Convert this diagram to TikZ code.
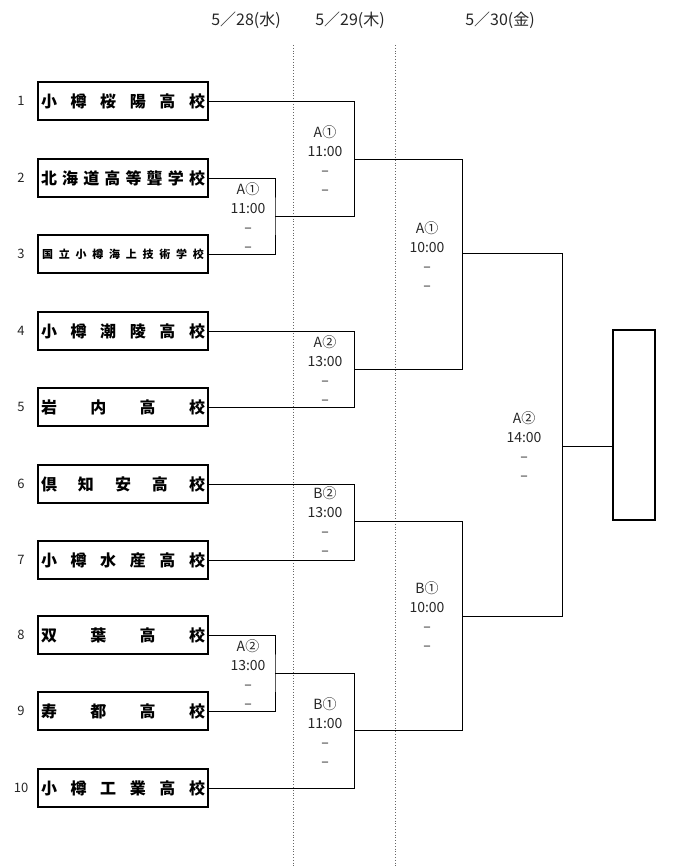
\documentclass[tikz,border=0pt]{standalone}
\usepackage{fontspec}
\setmainfont{Noto Sans CJK JP}
\tikzset{
  team/.style={draw, line width=1.6pt, minimum width=170pt, minimum height=38pt, inner sep=0pt},
  champbox/.style={draw, line width=1.6pt, minimum width=42pt, minimum height=190pt, inner sep=0pt},
  bline/.style={line width=0.9pt},
  lbl/.style={align=center, font=\fontsize{14}{19}\selectfont, inner sep=0pt, text=black!85},
  num/.style={font=\fontsize{13}{14}\selectfont, inner sep=0pt, text=black!85},
  day/.style={font=\fontsize{16}{18}\selectfont, inner sep=0pt, text=black!85},
  sepline/.style={dotted, line width=0.8pt, black!60}
}
\newcommand{\tname}[1]{\makebox[164pt][s]{\fontsize{16}{16}\selectfont\bfseries #1}}
\newcommand{\tsmall}[1]{\makebox[162pt][s]{\fontsize{11}{11}\selectfont\bfseries #1}}
\begin{document}
\begin{tikzpicture}[x=1pt,y=-1pt]
\useasboundingbox (0,0) rectangle (700,866);
% header
\node[day] (d1) at (246,20) {5／28(水)};
\node[day] (d2) at (350,20) {5／29(木)};
\node[day] (d3) at (500,20) {5／30(金)};
% dotted separators
\coordinate (s1a) at (293,45); \coordinate (s1b) at (293,866);
\coordinate (s2a) at (395,45); \coordinate (s2b) at (395,866);
\draw[sepline] (s1a) -- (s1b);
\draw[sepline] (s2a) -- (s2b);
% teams
\node[team] (t1) at (123,101) {\tname{小 樽 桜 陽 高 校}};
\node[team] (t2) at (123,178) {\tname{北 海 道 高 等 聾 学 校}};
\node[team] (t3) at (123,254) {\tsmall{国 立 小 樽 海 上 技 術 学 校}};
\node[team] (t4) at (123,331) {\tname{小 樽 潮 陵 高 校}};
\node[team] (t5) at (123,407) {\tname{岩 内 高 校}};
\node[team] (t6) at (123,484) {\tname{倶 知 安 高 校}};
\node[team] (t7) at (123,560) {\tname{小 樽 水 産 高 校}};
\node[team] (t8) at (123,635) {\tname{双 葉 高 校}};
\node[team] (t9) at (123,711) {\tname{寿 都 高 校}};
\node[team] (t10) at (123,788) {\tname{小 樽 工 業 高 校}};
% numbers
\node[num] (n1) at (21,101) {1};
\node[num] (n2) at (21,178) {2};
\node[num] (n3) at (21,254) {3};
\node[num] (n4) at (21,331) {4};
\node[num] (n5) at (21,407) {5};
\node[num] (n6) at (21,484) {6};
\node[num] (n7) at (21,560) {7};
\node[num] (n8) at (21,635) {8};
\node[num] (n9) at (21,711) {9};
\node[num] (n10) at (21,788) {10};
% junctions
\coordinate (m1) at (275,216);
\coordinate (m5) at (275,673);
\coordinate (m2) at (354,159);
\coordinate (m3) at (354,369);
\coordinate (m4) at (354,521);
\coordinate (m6) at (354,730);
\coordinate (q1) at (462,253);
\coordinate (q2) at (462,616);
\coordinate (f) at (562,446);
% first round
\draw[bline] (t2.east) -| (m1) |- (t3.east);
\draw[bline] (t8.east) -| (m5) |- (t9.east);
% second round
\draw[bline] (t1.east) -| (m2);
\draw[bline] (m1) -| (m2);
\draw[bline] (t4.east) -| (m3);
\draw[bline] (t5.east) -| (m3);
\draw[bline] (t6.east) -| (m4);
\draw[bline] (t7.east) -| (m4);
\draw[bline] (m5) -| (m6);
\draw[bline] (t10.east) -| (m6);
% third round
\draw[bline] (m2) -| (q1);
\draw[bline] (m3) -| (q1);
\draw[bline] (m4) -| (q2);
\draw[bline] (m6) -| (q2);
% final
\draw[bline] (q1) -| (f);
\draw[bline] (q2) -| (f);
\node[champbox] (champ) at (634,425) {};
\draw[bline] (f) -- (f -| champ.west);
% match labels
\node[lbl] (la1) at (248,217) {A①\\11:00\\–\\–};
\node[lbl] (la2) at (248,674) {A②\\13:00\\–\\–};
\node[lbl] (lb1) at (325,160) {A①\\11:00\\–\\–};
\node[lbl] (lb2) at (325,370) {A②\\13:00\\–\\–};
\node[lbl] (lb3) at (325,521) {B②\\13:00\\–\\–};
\node[lbl] (lb4) at (325,732) {B①\\11:00\\–\\–};
\node[lbl] (lc1) at (427,256) {A①\\10:00\\–\\–};
\node[lbl] (lc2) at (427,616) {B①\\10:00\\–\\–};
\node[lbl] (ld1) at (524,446) {A②\\14:00\\–\\–};
\end{tikzpicture}
\end{document}
